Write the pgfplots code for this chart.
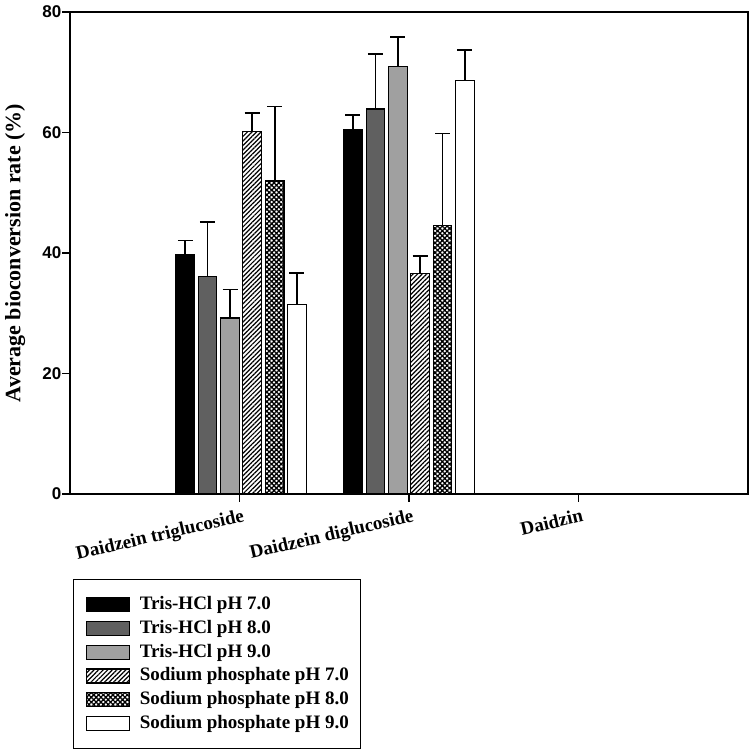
\documentclass[border=0pt]{standalone}
\usepackage{pgfplots}
\pgfplotsset{compat=1.18}
\usepackage{fontspec}
\setmainfont{Liberation Serif}
\newfontfamily\arialfont{Liberation Sans}
\usetikzlibrary{patterns.meta}
\definecolor{dgray}{RGB}{96,96,96}
\definecolor{lgray}{RGB}{160,160,160}
\pgfplotsset{
  mybar/.style={ybar, bar width=0.11, bar shift=0pt, draw=black, line width=1.2pt,
    error bars/y dir=plus, error bars/y explicit,
    error bars/error bar style={line width=1.6pt, black},
    error bars/error mark options={rotate=90, line width=1.6pt, black, mark size=7.5pt},
    legend image code/.code={\draw[##1, line width=1.2pt] (0pt,-7pt) rectangle (43pt,7pt);}},
}
\begin{document}
\begin{tikzpicture}
\useasboundingbox (-70pt,-261pt) rectangle (680pt,494pt);
\begin{axis}[
  at={(0pt,0pt)}, anchor=south west,
  scale only axis, width=678pt, height=482pt,
  xmin=0, xmax=4, ymin=0, ymax=80,
  xtick={1,2,3},
  xticklabels={Daidzein triglucoside, Daidzein diglucoside, Daidzin},
  ytick={0,20,40,60,80},
  tick align=outside, xtick pos=bottom, ytick pos=left,
  major tick length=7.5pt,
  every tick/.style={black, line width=1.3pt},
  axis line style={line width=1.8pt},
  /pgf/number format/assume math mode=true,
  yticklabel style={font=\arialfont\bfseries\fontsize{17}{17}\selectfont, inner sep=1pt},
  xticklabel style={font=\bfseries\fontsize{19}{19}\selectfont, rotate=13, anchor=north east, inner sep=2pt, yshift=-5pt, xshift=3pt},
  ylabel={Average bioconversion rate (\%)},
  every axis y label/.style={at={(axis description cs:-0.081,0.5)}, rotate=90, anchor=center,
    font=\bfseries\fontsize{22}{24}\selectfont},
  legend style={at={(axis description cs:0.0044,-0.1763)}, anchor=north west,
    draw=black, line width=1.2pt, inner xsep=12pt, inner ysep=16pt,
    font=\bfseries\fontsize{19}{20}\selectfont, row sep=5.8pt,
    nodes={inner sep=0pt, text height=14pt, text depth=4pt},
    /tikz/column 1/.style={column sep=10pt}},
  legend cell align=left,
]
\addplot[mybar, fill=black] coordinates {(0.680,39.7) +- (0,2.4) (1.668,60.45) +- (0,2.45)};
\addlegendentry{Tris-HCl pH 7.0}
\addplot[mybar, fill=dgray] coordinates {(0.811,36.1) +- (0,9.0) (1.802,63.9) +- (0,9.1)};
\addlegendentry{Tris-HCl pH 8.0}
\addplot[mybar, fill=lgray] coordinates {(0.944,29.2) +- (0,4.75) (1.934,70.9) +- (0,5.0)};
\addlegendentry{Tris-HCl pH 9.0}
\addplot[mybar, fill=white, postaction={pattern={Lines[angle=45, distance=3.2pt, line width=1.2pt]}, pattern color=black}] coordinates {(1.075,60.2) +- (0,3.0) (2.065,36.55) +- (0,2.95)};
\addlegendentry{Sodium phosphate pH 7.0}
\addplot[mybar, fill=white, postaction={pattern={Hatch[angle=45, distance=3.4pt, line width=1.3pt]}, pattern color=black}] coordinates {(1.208,51.95) +- (0,12.35) (2.198,44.6) +- (0,15.25)};
\addlegendentry{Sodium phosphate pH 8.0}
\addplot[mybar, fill=white] coordinates {(1.339,31.5) +- (0,5.2) (2.330,68.6) +- (0,5.1)};
\addlegendentry{Sodium phosphate pH 9.0}
\end{axis}
\end{tikzpicture}
\end{document}
